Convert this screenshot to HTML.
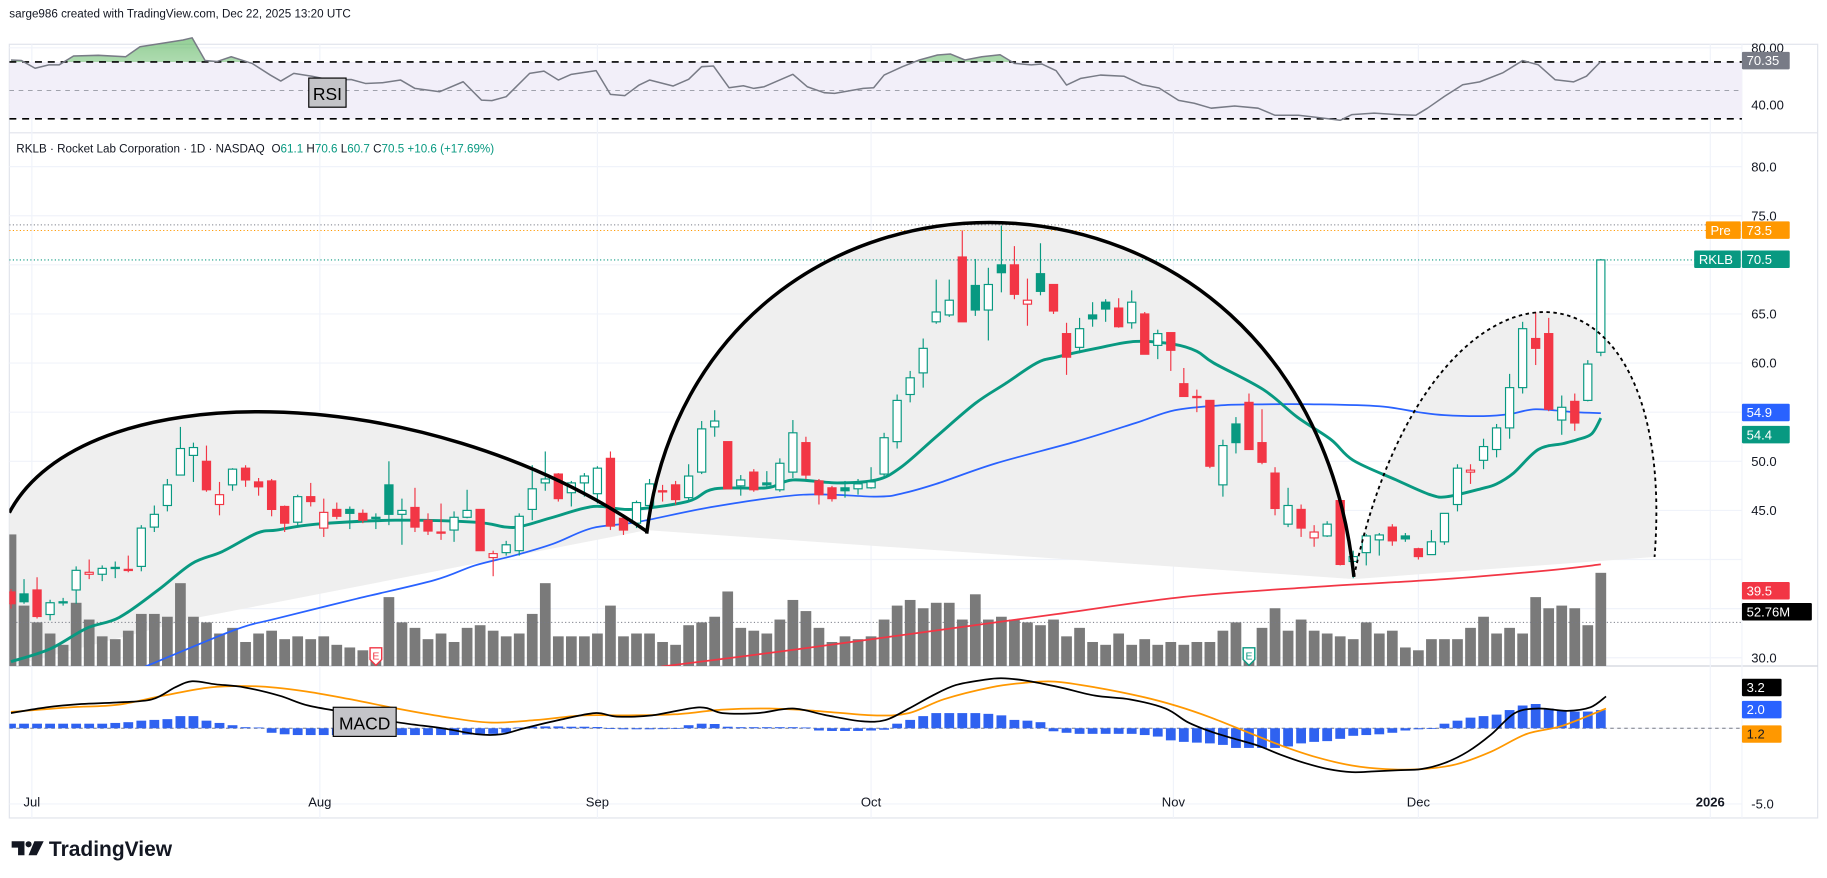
<!DOCTYPE html>
<html><head><meta charset="utf-8"><title>RKLB chart</title>
<style>
html,body{margin:0;padding:0;background:#fff;}
svg{display:block;font-family:"Liberation Sans",sans-serif;}
</style></head>
<body>
<svg id="chart" width="1827" height="878" viewBox="0 0 1827 878" xmlns="http://www.w3.org/2000/svg">
<defs>
<clipPath id="clipMain"><rect x="8" y="114" width="1487" height="457.6"/></clipPath>
<clipPath id="clipRsi"><rect x="8" y="30" width="1487" height="84"/></clipPath>
<clipPath id="clipMacd"><rect x="8" y="572" width="1487" height="130"/></clipPath>
<clipPath id="clipOB"><rect x="8" y="20" width="1487" height="33.2"/></clipPath>
<linearGradient id="obGrad" x1="0" y1="0" x2="0" y2="1"><stop offset="0" stop-color="#4caf50" stop-opacity="0.6"/><stop offset="1" stop-color="#4caf50" stop-opacity="0.1"/></linearGradient>
</defs>
<g transform="scale(1.16518)">
<text x="8" y="15" font-size="10" fill="#131722">sarge986 created with TradingView.com, Dec 22, 2025 13:20 UTC</text>
<rect x="8" y="38" width="1552" height="664" fill="none" stroke="#e0e3eb" stroke-width="1"/>
<line x1="8" y1="114" x2="1560" y2="114" stroke="#e0e3eb"/>
<line x1="8" y1="571.6" x2="1560" y2="571.6" stroke="#d1d4dc"/>
<line x1="1495" y1="38" x2="1495" y2="702" stroke="#f0f3fa"/>
<g id="grid"></g>
<g id="rsiPane"></g>
<g id="mainPane"></g>
<g id="macdPane"></g>
<g id="axes"></g>
<text x="14" y="131" font-size="10" fill="#131722">RKLB · Rocket Lab Corporation · 1D · NASDAQ  <tspan fill="#131722" dx="3">O</tspan><tspan fill="#089981">61.1 </tspan><tspan fill="#131722">H</tspan><tspan fill="#089981">70.6 </tspan><tspan fill="#131722">L</tspan><tspan fill="#089981">60.7 </tspan><tspan fill="#131722">C</tspan><tspan fill="#089981">70.5 +10.6 (+17.69%)</tspan></text>
<g>
<path d="M10,722 H21 V734 H15.5 V727.5 H10 Z" fill="#131722"/>
<circle cx="24.5" cy="724.6" r="2.6" fill="#131722"/>
<path d="M29.5,722 H37.5 L31.5,734 H24.5 Z" fill="#131722"/>
<text x="42" y="734.5" font-size="18" font-weight="bold" fill="#131722">TradingView</text>
</g>
</g>
</svg>
<script>
// ---------- data ----------
const opens=[36.7,36.5,36.9,34.4,35.7,36.9,38.5,38.5,39.2,39.0,
39.3,43.3,45.5,48.6,50.6,50.0,45.6,47.6,49.3,47.9,
48.0,45.4,43.8,46.4,43.2,45.1,45.1,44.7,44.2,47.6,
44.6,45.3,44.0,42.8,43.0,44.3,45.1,40.2,40.7,40.9,
45.1,47.8,48.7,46.8,47.8,46.7,50.3,44.2,43.7,45.5,
47.0,47.6,46.3,48.9,53.5,52.0,47.5,48.9,47.8,47.1,
48.9,51.9,48.0,47.3,47.3,47.2,47.3,48.7,52.0,56.8,
59.0,64.2,64.9,70.8,67.9,65.4,70.0,70.0,66.0,69.1,
68.0,63.0,61.6,64.9,66.2,65.6,64.1,65.0,61.8,63.1,
57.9,56.6,56.2,47.6,53.8,56.0,51.9,48.8,43.6,45.1,
42.2,42.4,46.0,39.8,40.7,42.0,43.3,42.4,41.1,40.5,
41.8,45.6,48.9,50.1,51.2,53.4,57.5,62.5,63.0,54.2,
56.1,56.2,61.1];
const highs=[37,38,38.2,35.9,36.1,39.3,40,39.4,39.8,40.4,
43.5,45.5,48.2,53.5,51.9,51.6,47.9,49.3,49.6,48.3,
48.2,45.5,46.6,47.8,46.2,45.8,45.4,45.1,44.7,50.0,
46.2,47.3,44.7,45.7,44.9,47.1,45.1,40.9,41.9,44.7,
49.6,51.0,48.8,48.0,48.8,49.5,51.0,44.6,46.0,48.2,
47.6,48.0,49.7,54.1,55.2,52.0,48.6,49.2,49.0,50.3,
54.2,52.5,48.2,47.5,48.0,48.2,49.4,52.9,56.8,59.2,
62.5,68.5,68.5,73.5,70.6,69.7,74.0,71.9,68.6,72.2,
68.0,64.1,64.6,66.2,66.5,66.6,67.4,65.2,63.4,63.1,
59.5,57.3,56.2,52.2,54.5,56.9,55.3,49.4,47.3,45.6,
43.5,43.9,46.2,40.9,42.6,42.7,43.6,42.7,41.2,43.0,
44.7,49.7,49.7,52.3,53.8,58.9,64.2,65.2,64.6,56.7,
56.9,60.3,70.6];
const lows=[35,35.5,34.0,33.8,35.3,35.5,38,37.8,38.1,38.7,
38.8,42.8,44.9,48.6,47.9,46.9,44.5,47.0,47.4,46.5,
44.4,42.8,43.3,45.4,42.3,44.1,43.1,43.7,43.1,43.5,
41.5,42.8,42.5,42.0,41.8,44.2,40.9,38.3,40.4,40.4,
44.0,47.0,45.9,45.4,46.4,45.7,43.0,42.5,43.2,45.2,
45.9,45.6,46.0,48.7,52.5,47.2,46.5,46.9,47.2,46.9,
48.3,48.2,45.6,45.9,46.3,46.6,47.2,48.5,51.3,56.0,
57.5,64.0,64.7,64.2,64.8,62.3,67.2,66.5,63.8,66.9,
65.0,58.8,61.0,63.7,64.2,63.6,63.5,60.9,60.4,59.2,
56.6,55.0,49.3,46.4,50.8,51.2,49.7,44.5,43.3,42.3,
41.3,42.3,39.4,38.1,39.4,40.4,41.4,41.8,40.0,40.5,
41.5,44.9,47.7,49.2,50.4,52.3,56.9,59.8,55.1,52.7,
53.1,56.1,60.7];
const closes=[35.5,35.7,34.2,35.6,35.6,38.9,38.7,39.1,39.1,39.0,
43.2,44.6,47.6,51.3,51.4,47.1,46.6,49.2,48.1,47.4,
45.1,43.7,46.4,45.9,44.8,44.4,44.7,44.0,44.3,44.6,
45.0,43.3,42.9,42.8,44.3,45.0,40.9,40.6,41.5,44.4,
47.2,48.2,46.2,47.8,48.5,49.3,43.4,43.0,45.8,47.7,
47.0,46.1,48.5,53.3,54.1,47.2,48.1,47.1,47.6,49.8,
52.9,48.6,46.6,46.2,47.0,47.7,47.9,52.4,56.2,58.5,
61.5,65.2,66.4,64.2,65.4,68.0,69.2,67.0,66.4,67.3,
65.3,60.6,63.5,64.5,65.5,63.7,66.2,60.9,63.0,61.3,
56.6,56.5,49.5,51.6,51.9,51.2,49.9,45.2,45.5,43.2,
42.8,43.6,39.5,40.3,42.4,42.5,41.9,42.1,40.3,41.8,
44.7,49.3,49.1,51.5,53.4,57.5,63.5,61.5,55.3,55.5,
53.9,59.9,70.5];
const volumes=[74.5,34.2,24.7,18.4,12.0,35.8,26.3,16.8,15.2,20.0,
29.5,29.5,27.9,46.9,27.9,24.7,18.4,21.6,13.6,18.4,
20.0,15.2,16.8,15.2,16.8,12.0,10.5,8.9,10.5,39.0,
24.7,21.6,15.2,18.4,13.6,21.6,23.1,20.0,16.8,18.4,
29.5,46.9,16.8,16.8,16.8,18.4,34.2,16.8,18.4,18.4,
13.6,12.0,23.1,24.7,27.9,42.2,21.6,20.0,18.4,26.3,
37.4,31.1,21.6,13.6,16.8,15.2,16.8,26.3,34.2,37.4,
32.7,35.8,35.8,26.3,40.6,26.3,27.9,26.3,24.7,23.1,
26.3,16.8,21.6,13.6,12.0,18.4,12.0,15.2,12.0,13.6,
12.0,13.6,13.6,20.0,24.7,10.5,21.6,32.7,20.0,26.3,
20.0,18.4,16.8,15.2,24.7,18.4,20.0,10.5,8.9,15.2,
15.2,15.2,21.6,27.9,18.4,21.6,18.4,39.0,32.7,34.2,
32.7,23.1,52.76];
const emaIdx=[0,3,5.8,8.3,11.3,13.9,16.2,18.9,20.4,23.4,29.5,35.6,38,39.2,41.6,44.7,47.6,51.9,54,58,60,63.4,66.4,68.3,71,74,76.3,78.7,80.2,83.3,86.3,89.3,91,92.3,96.1,98.7,101.3,103,106.3,108.9,110.2,112.8,114,115.3,117.2,119.1,120.2,121.3,122];
const emaVal=[29.6,30.9,33.0,34.1,36.9,39.6,40.8,42.7,43.0,43.6,44.0,43.8,43.3,43.4,44.3,45.4,45.1,45.9,47.2,47.3,48.1,47.8,48.1,49.4,52.5,55.9,57.9,60.0,60.6,61.5,62.2,61.9,61.2,60.0,57.3,54.5,52.2,50.1,48.1,46.6,46.4,47.2,47.7,48.8,51.2,51.8,52.2,52.8,54.4];
const smaIdx=[9,10.3,17.1,20.4,26.5,32.5,35.6,38.6,41.6,44.6,48,54,60.8,66.4,68.3,71,75.6,81.7,86.3,89.3,92.9,96,100,105,108,110,113,115,117,120,122];
const smaVal=[28.5,29.1,32.8,34.0,36.0,37.9,39.4,40.4,41.6,43.2,43.8,45.4,46.6,46.4,46.7,47.7,49.8,52.0,53.9,55.2,55.7,55.8,55.8,55.6,55.0,54.7,54.6,54.8,55.3,55.0,54.9];
const sma200Idx=[49.9,60,70,80,90,100,110,118,122];
const sma200Val=[29.1,30.8,32.6,34.4,36.2,37.2,38.0,38.9,39.5];
const rsiIdx=[0,0.8,1.85,2.9,3.7,4.8,6.7,8.8,9.9,11.5,13.2,13.9,14.9,15.8,16.9,18.5,19.9,20.7,21.7,23.1,24.5,26.1,27.2,28.5,29.9,31,32.9,34.7,36.1,36.9,38,39.8,40.9,42,43,44.9,46,47.1,48.2,49,50.8,52,53,53.9,55.1,56.2,57,57.8,60,61.1,62.4,63.2,65.4,66.2,67,68.4,69.7,71.1,72.1,73.2,74.5,75.9,77,78.3,79.1,80.2,81,82.1,83.6,85.4,86.8,88.1,89.6,90.8,92.1,93.9,95.7,97,98.8,100.2,102,102.9,104.6,106.4,107.8,108.7,110,111.4,112.7,114.5,116,117.2,118.5,119.9,120.9,122];
const rsiVal=[71.4,71,65.6,68,68,74.2,74.7,73.7,80.7,83,85.5,87,71,70.3,73.7,69,60.8,56.6,62,60,57.3,57.7,54.9,55.4,57.3,51.4,49.1,56.1,43.2,42.8,45.6,62,63.6,57.3,61.3,63.9,47.2,46.3,53.8,57.3,53.1,57.8,66.7,67.2,51.9,53.3,51.4,52.6,61.3,52.6,48.4,47.9,51.4,51.9,60.8,66.7,71.4,74.9,75.6,71.4,73.7,75.1,69,68,68.6,63.9,53.8,58.5,60.8,60,54,51.7,43,41,37.5,39,37.5,32.5,32.5,31,29,33,34,33,32.5,37.5,45.8,54,56,62.5,71,68,57.5,56,60,70.35];
const macdIdx=[0,2.7,5.4,8.1,10.8,12.6,13.9,15.7,17.9,20.6,22.8,26,29.6,33.1,35.8,37.6,39.4,42.1,44.8,46.5,49.2,52.8,54.6,57.3,60,62.6,65.3,67.1,68.9,70.7,72.5,74.7,76,77.8,80.5,83.2,85.9,88.6,90.3,92.1,93.9,95.7,97.5,99.3,101.1,102.9,104.6,106.4,108.2,110,111.8,113.6,115.4,117.2,119.4,121.2,122.4];
const macdVal=[1.0,1.38,1.6,1.7,1.9,2.7,3.1,2.9,2.7,2.15,1.5,1.0,0.4,0,-0.4,-0.4,0,0.55,1.0,0.77,0.85,1.38,1.0,1.0,1.3,0.85,0.46,0.54,1.3,2.15,2.85,3.2,3.3,3.15,2.7,2.15,1.9,1.3,0.4,-0.23,-0.7,-1.15,-1.77,-2.3,-2.7,-2.9,-2.85,-2.77,-2.7,-2.3,-1.54,-0.4,1.0,1.3,1.15,1.38,2.1];
const sigIdx=[0,4.5,8.1,11.7,15.3,18.8,22.4,26,29.6,33.1,36.7,40.3,43.9,47.4,51,54.6,58.2,61.7,66.2,68.9,71.6,75.2,77.8,80.1,83.2,86.8,89.5,92.1,94.8,97.5,100.2,102.9,105.5,108.2,110.9,113.6,116.3,119,122.4];
const sigVal=[1.08,1.38,1.54,2.15,2.7,2.77,2.46,1.92,1.3,0.77,0.38,0.54,0.85,0.85,0.92,1.23,1.3,1.15,0.85,1.0,1.92,2.7,3.0,3.08,2.7,2.08,1.46,0.7,-0.23,-1.15,-1.92,-2.46,-2.7,-2.7,-2.38,-1.54,-0.38,0.15,1.3];
const histVals=[0.3,0.3,0.3,0.3,0.3,0.3,0.3,0.3,0.35,0.4,
0.5,0.55,0.6,0.8,0.8,0.5,0.35,0.2,0.07,0.05,
-0.3,-0.4,-0.45,-0.45,-0.45,-0.45,-0.45,-0.45,-0.45,-0.45,
-0.45,-0.45,-0.45,-0.45,-0.45,-0.42,-0.37,-0.37,-0.3,0.05,
0.1,0.12,0.12,0.1,0.1,0.08,-0.05,-0.07,-0.07,-0.07,
-0.06,-0.04,0.2,0.3,0.28,0.1,0.07,0.07,0.07,0.07,
0.07,0.05,-0.15,-0.18,-0.18,-0.18,-0.15,-0.1,0.3,0.55,
0.8,1.0,1.0,1.0,1.0,0.95,0.85,0.55,0.5,0.4,
-0.2,-0.3,-0.37,-0.37,-0.37,-0.37,-0.37,-0.45,-0.55,-0.8,
-0.9,-0.95,-1.0,-1.1,-1.3,-1.3,-1.3,-1.3,-1.2,-1.0,
-0.9,-0.85,-0.7,-0.5,-0.45,-0.4,-0.3,-0.15,-0.07,-0.05,
0.3,0.5,0.7,0.8,0.9,1.2,1.5,1.6,1.3,1.2,
1.1,1.1,1.2];
const priceTicks=[80,75,70,65,60,55,50,45,40,35,30];
const priceTickLabels=["80.0","75.0","","65.0","60.0","","50.0","45.0","","35.0","30.0"];
const monthIdx=[1.6,23.7,45,66,89.2,108,130.4];
const monthLabels=["Jul","Aug","Sep","Oct","Nov","Dec","2026"];

// ---------- scales ----------
const NS="http://www.w3.org/2000/svg";
const X=i=>9.44+i*11.184;
const Y=p=>143+(80-p)*8.43;
const RY=r=>53.2+(70-r)*1.22;
const MY=v=>625-v*13;
const VY=v=>571.6-v*1.516;
function mk(tag,attrs,parent){const e=document.createElementNS(NS,tag);for(const k in attrs)e.setAttribute(k,attrs[k]);if(parent)parent.appendChild(e);return e;}
function smooth(pts){let d="M"+pts[0][0].toFixed(2)+","+pts[0][1].toFixed(2);
for(let i=0;i<pts.length-1;i++){const p0=pts[i-1]||pts[i],p1=pts[i],p2=pts[i+1],p3=pts[i+2]||p2;
const c1x=p1[0]+(p2[0]-p0[0])/6,c1y=p1[1]+(p2[1]-p0[1])/6,c2x=p2[0]-(p3[0]-p1[0])/6,c2y=p2[1]-(p3[1]-p1[1])/6;
d+=` C${c1x.toFixed(2)},${c1y.toFixed(2)} ${c2x.toFixed(2)},${c2y.toFixed(2)} ${p2[0].toFixed(2)},${p2[1].toFixed(2)}`;}return d;}
function poly(pts){return "M"+pts.map(p=>p[0].toFixed(2)+","+p[1].toFixed(2)).join(" L");}

const grid=document.getElementById('grid');
const rsiPane=document.getElementById('rsiPane');
const mainPane=document.getElementById('mainPane');
const macdPane=document.getElementById('macdPane');
const axes=document.getElementById('axes');

// grid
monthIdx.forEach((m,k)=>{const l=mk('line',{x1:X(m),x2:X(m),y1:38,y2:702,stroke:'#f0f3fa'},grid);

});
priceTicks.forEach(p=>{const l=mk('line',{x1:8,x2:1495,y1:Y(p),y2:Y(p),stroke:'#f0f3fa'},grid);

});
[RY(80),RY(40)].forEach(y=>{const l=mk('line',{x1:8,x2:1495,y1:y,y2:y,stroke:'#f0f3fa'},grid);

});
[MY(0),MY(-5)].forEach(y=>{const l=mk('line',{x1:8,x2:1495,y1:y,y2:y,stroke:'#f0f3fa'},grid);

});

// ---------- RSI ----------
const rg=mk('g',{'clip-path':'url(#clipRsi)'},rsiPane);
const band=mk('rect',{x:8,y:RY(70),width:1487,height:RY(30)-RY(70),fill:'#f2eff9'},rg);


const rpts=rsiIdx.map((v,k)=>[X(v),RY(rsiVal[k])]);
const ob=mk('path',{d:poly(rpts)+` L${X(122)},${RY(70)} L${X(0)},${RY(70)} Z`,fill:'url(#obGrad)','clip-path':'url(#clipOB)'},rg);


[[70,'6 5',1.4,'#000'],[30,'6 5',1.4,'#000'],[50,'4 4',0.8,'#9598a1']].forEach(a=>{
const l=mk('line',{x1:8,x2:1495,y1:RY(a[0]),y2:RY(a[0]),stroke:a[3],'stroke-dasharray':a[1],'stroke-width':a[2]},rg);

});
const rl=mk('path',{d:poly(rpts),fill:'none',stroke:'#787b86','stroke-width':1.3,'stroke-linejoin':'round'},rg);


const rsiBox=mk('g',{},rsiPane);


mk('rect',{x:265,y:67,width:32,height:25,fill:'#c4c4c8',stroke:'#000','stroke-width':1},rsiBox);
const rt=mk('text',{x:281,y:86,'font-size':15,'text-anchor':'middle',fill:'#000'},rsiBox);rt.textContent='RSI';

// ---------- main pane ----------
const mg=mk('g',{'clip-path':'url(#clipMain)'},mainPane);
const shade=mk('path',{d:'M8,440 C70,322 360,322 555,456 C600,96 1120,96 1162,495 C1225,195 1442,195 1420,478 L1162,497 L555,455 L170,530 L8,572 Z',fill:'#efefef'},mg);


volumes.forEach((v,i)=>{const r=mk('rect',{x:X(i)-4.6,y:VY(v),width:9.2,height:571.6-VY(v),fill:'#7a7a7a'},mg);

});
[[74.07,'#787b86'],[73.5,'#ff9800'],[70.5,'#089981'],[33.6,'#787b86']].forEach(a=>{
const l=mk('line',{x1:8,x2:1495,y1:Y(a[0]),y2:Y(a[0]),stroke:a[1],'stroke-dasharray':'1 2','stroke-width':0.9},mg);

});
function maLine(idx,val,color,w,name){const p=mk('path',{d:smooth(idx.map((v,k)=>[X(v),Y(val[k])])),fill:'none',stroke:color,'stroke-width':w},mg);

}
maLine(sma200Idx,sma200Val,'#f23645',1.5,'ma-200-line');
maLine(smaIdx,smaVal,'#2962ff',1.5,'ma-50-line');
maLine(emaIdx,emaVal,'#089981',2.5,'ema-20-line');
closes.forEach((c,i)=>{const o=opens[i],prev=i?closes[i-1]:o;const col=(c>=prev&&i>0)?'#089981':'#f23645';
const hollow=c>o;const g=mk('g',{},mg);


const x=X(i);
mk('line',{x1:x,x2:x,y1:Y(highs[i]),y2:Y(lows[i]),stroke:col,'stroke-width':1},g);
const top=Y(Math.max(o,c)),bot=Y(Math.min(o,c));
mk('rect',{x:x-3.5,y:top,width:7,height:Math.max(bot-top,1),fill:hollow?'#fff':col,stroke:col,'stroke-width':1},g);});
const a1=mk('path',{d:'M8,440 C70,322 360,322 555,456',fill:'none',stroke:'#000','stroke-width':3},mg);


const a2=mk('path',{d:'M555,458 C600,96 1120,96 1162,495',fill:'none',stroke:'#000','stroke-width':3},mg);


const a3=mk('path',{d:'M1162,495 C1225,195 1442,195 1420,478',fill:'none',stroke:'#000','stroke-width':1.6,'stroke-dasharray':'3 3'},mg);


[[28,'#f23645'],[95,'#089981']].forEach(a=>{const g=mk('g',{},mg);


const x=X(a[0]);
mk('path',{d:`M${x-5},556 L${x+5},556 L${x+5},566 L${x},571 L${x-5},566 Z`,fill:'#fff',stroke:a[1],'stroke-width':1.2},g);
const t=mk('text',{x:x,y:566,'font-size':9,'text-anchor':'middle',fill:a[1]},g);t.textContent='E';});

// ---------- MACD ----------
const cg=mk('g',{'clip-path':'url(#clipMacd)'},macdPane);
const zl=mk('line',{x1:8,x2:1495,y1:MY(0),y2:MY(0),stroke:'#787b86','stroke-dasharray':'3 3','stroke-width':0.8},cg);


histVals.forEach((h,i)=>{const y=Math.min(MY(h),MY(0)),hh=Math.abs(MY(h)-MY(0));
const r=mk('rect',{x:X(i)-4.2,y:y,width:8.4,height:Math.max(hh,0.6),fill:'#2f62f0'},cg);

});
const sl=mk('path',{d:smooth(sigIdx.map((v,k)=>[X(v),MY(sigVal[k])])),fill:'none',stroke:'#ff9800','stroke-width':1.5},cg);


const ml=mk('path',{d:smooth(macdIdx.map((v,k)=>[X(v),MY(macdVal[k])])),fill:'none',stroke:'#000','stroke-width':1.5},cg);


const mb=mk('g',{},macdPane);


mk('rect',{x:286,y:607,width:54,height:25,fill:'#c4c4c8',stroke:'#000','stroke-width':1},mb);
const mt=mk('text',{x:313,y:626,'font-size':15,'text-anchor':'middle',fill:'#000'},mb);mt.textContent='MACD';

// ---------- axes ----------
function axText(x,y,s,opt){const t=mk('text',Object.assign({x:x,y:y,'font-size':11.2,fill:'#131722'},opt||{}),axes);t.textContent=s;

return t;}
priceTicks.forEach((p,k)=>{if(priceTickLabels[k])axText(1503,Y(p)+4,priceTickLabels[k]);});
axText(1503,RY(80)+4,'80.00');axText(1503,RY(40)+4,'40.00');
axText(1503,MY(-5)+4,'-5.0');
monthLabels.forEach((m,k)=>{axText(X(monthIdx[k]),692,m,{'text-anchor':'middle','font-weight':k==6?'bold':'normal'});});
function tag(x,y,w,txt,bg,fg,name){const g=mk('g',{},axes);


mk('rect',{x:x,y:y-7.5,width:w,height:15,fill:bg,rx:1},g);
const t=mk('text',{x:x+4,y:y+4,'font-size':11.2,fill:fg},g);t.textContent=txt;}
tag(1495,52,41,'70.35','#787b86','#fff','rsi-value-tag');
tag(1464,197.5,30,'Pre','#ff9800','#fff','premarket-name-tag');
tag(1495,197.5,41,'73.5','#ff9800','#fff','premarket-price-tag');
tag(1454,222.5,40,'RKLB','#089981','#fff','symbol-name-tag');
tag(1495,222.5,41,'70.5','#089981','#fff','last-price-tag');
tag(1495,354,41,'54.9','#2962ff','#fff','ma50-value-tag');
tag(1495,373,41,'54.4','#089981','#fff','ema20-value-tag');
tag(1495,507,41,'39.5','#f23645','#fff','ma200-value-tag');
tag(1495,525,60,'52.76M','#000','#fff','volume-value-tag');
tag(1495,590,34,'3.2','#000','#fff','macd-value-tag');
tag(1495,609,34,'2.0','#2962ff','#fff','histogram-value-tag');
tag(1495,630,34,'1.2','#ff9800','#131722','signal-value-tag');
</script>
</body></html>
